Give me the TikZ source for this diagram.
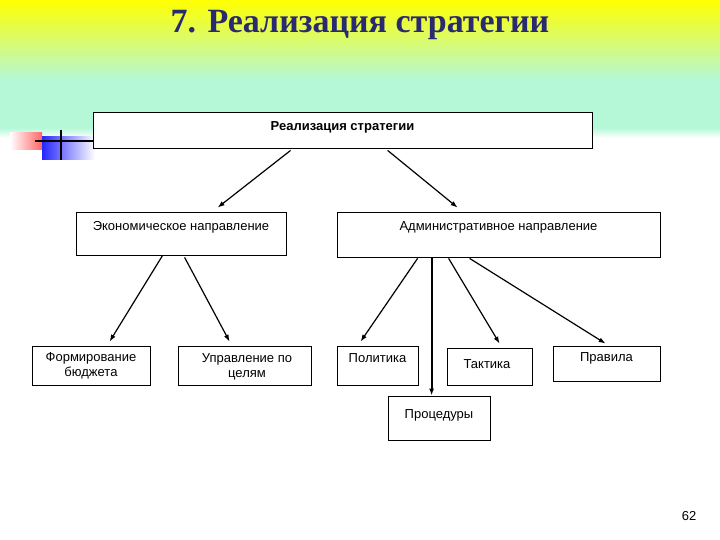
\documentclass[tikz,border=0pt]{standalone}
\usepackage{fontspec}
\setmainfont{Liberation Sans}
\newfontfamily\titlefont{Liberation Serif}
\usetikzlibrary{calc,arrows.meta}
\definecolor{mint}{HTML}{B4F8D8}
\definecolor{yel}{HTML}{FFFF00}
\definecolor{navy}{HTML}{2A2A70}
\begin{document}
\begin{tikzpicture}[x=1pt,y=-1pt,
  box/.style={draw,thick,fill=white,inner sep=0pt},
  lbl/.style={font=\fontsize{13}{15}\selectfont,align=center},
  arr/.style={-{Latex[length=7pt,width=5pt]},line width=1.2pt}]
\useasboundingbox (0,0) rectangle (720,540);
\fill[white] (0,0) rectangle (720,540);
\shade[top color=yel,bottom color=mint] (0,0) rectangle (720,80);
\fill[mint] (0,79.5) rectangle (720,128);
\shade[top color=mint,bottom color=white] (0,127.5) rectangle (720,138);
% decoration
\shade[left color=white,right color=red!60] (10,133) rectangle (42,150);
\shade[left color=blue!85,right color=white] (42,137) rectangle (95,160);
\draw[line width=2pt] (35,141) -- (95,141);
\draw[line width=2pt] (61,130) -- (61,160);
\node[font=\titlefont\bfseries\fontsize{34}{38}\selectfont,text=navy] (title) at (360,25) {7. Реализация стратегии};
% boxes
\node[box,minimum width=499pt,minimum height=36pt] (top) at (342.5,130) {};
\node[lbl,font=\bfseries\fontsize{13}{15}\selectfont] (toplbl) at (342.5,127) {Реализация стратегии};
\node[box,minimum width=210pt,minimum height=43pt] (eco) at (181,233.5) {};
\node[lbl] (ecolbl) at (181,227) {Экономическое направление};
\node[box,minimum width=323pt,minimum height=45pt] (adm) at (498.5,234.5) {};
\node[lbl] (admlbl) at (498.5,227) {Административное направление};
\node[box,minimum width=118pt,minimum height=39pt] (bud) at (91,365.5) {};
\node[lbl] (budlbl) at (91,366) {Формирование\\бюджета};
\node[box,minimum width=133pt,minimum height=39pt] (goal) at (244.5,365.5) {};
\node[lbl] (goallbl) at (247,367) {Управление по\\целям};
\node[box,minimum width=81pt,minimum height=39pt] (pol) at (377.5,365.5) {};
\node[lbl] (pollbl) at (377.5,358) {Политика};
\node[box,minimum width=85pt,minimum height=37pt] (tac) at (489.5,366.5) {};
\node[lbl] (taclbl) at (487,364) {Тактика};
\node[box,minimum width=107pt,minimum height=35pt] (rul) at (606.5,363.5) {};
\node[lbl] (rullbl) at (606.5,358) {Правила};
\node[box,minimum width=102pt,minimum height=44pt] (proc) at (439,418) {};
\node[lbl] (proclbl) at (439,415) {Процедуры};
\node[font=\fontsize{13}{15}\selectfont] (pg) at (689,516) {62};
% arrows
\draw[arr] ($(top.south west)+(198,2)$) -- ($(eco.north west)+(142,-4)$);
\draw[arr] ($(top.south west)+(295,2)$) -- ($(adm.north west)+(121,-4)$);
\draw[arr] ($(eco.south west)+(87,0)$) -- ($(bud.north west)+(78,-4)$);
\draw[arr] ($(eco.south west)+(109,2)$) -- ($(goal.north west)+(52,-4)$);
\draw[arr] ($(adm.south west)+(81,1)$) -- ($(pol.north west)+(24,-4)$);
\draw[arr,line width=2pt] ($(adm.south west)+(95,1)$) -- ($(proc.north west)+(44,0)$);
\draw[arr] ($(adm.south west)+(112,1)$) -- ($(tac.north west)+(53,-4)$);
\draw[arr] ($(adm.south west)+(133,1)$) -- ($(rul.north west)+(53,-2)$);
\end{tikzpicture}
\end{document}
